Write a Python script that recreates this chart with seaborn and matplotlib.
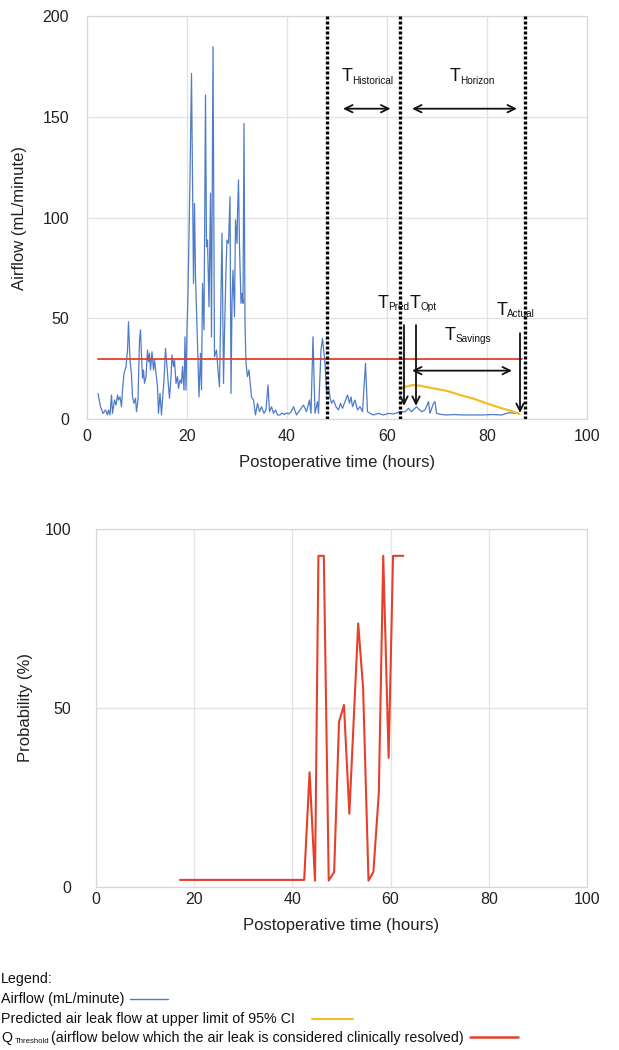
import matplotlib
matplotlib.use("Agg")
import matplotlib.pyplot as plt
from matplotlib.lines import Line2D
import seaborn as sns
import pandas as pd

# ---------------- data ----------------
airflow_hours = [2.2, 2.7, 3.2, 3.7, 4.1, 4.3, 4.6, 4.9, 5.1, 5.5, 5.8, 6.1, 6.3, 6.6, 6.9, 7.1, 7.4, 7.8,
                 8.1, 8.3, 8.6, 8.9, 9.1, 9.4, 9.7, 9.9, 10.2, 10.5, 10.7, 10.8, 11.1, 11.3, 11.5, 11.8,
                 12.1, 12.3, 12.5, 12.7, 13.0, 13.3, 13.5, 13.8, 14.1, 14.3, 14.6, 14.9, 15.1, 15.4, 15.7,
                 16.0, 16.3, 16.5, 16.8, 17.0, 17.3, 17.5, 17.8, 18.1, 18.3, 18.6, 18.9, 19.1, 19.4, 19.6,
                 19.8, 20.0, 20.2, 20.6, 20.9, 21.3, 21.5, 21.7, 22.1, 22.4, 22.7, 22.9, 23.1, 23.4, 23.7,
                 23.9, 24.1, 24.4, 24.7, 24.9, 25.2, 25.5, 25.9, 26.2, 26.5, 26.7, 27.0, 27.3, 27.5, 27.8,
                 28.0, 28.3, 28.6, 28.8, 29.0, 29.2, 29.5, 29.7, 30.0, 30.1, 30.3, 30.5, 30.8, 31.0, 31.2,
                 31.4, 31.6, 31.8, 32.1, 32.4, 32.7, 32.9, 33.3, 33.7, 34.1, 34.5, 34.9, 35.4, 35.8, 36.2,
                 36.5, 36.9, 37.3, 37.7, 38.1, 38.6, 39.0, 39.5, 39.9, 40.3, 40.8, 41.3, 41.9, 42.6, 43.3,
                 43.9, 44.5, 44.8, 45.2, 45.6, 46.1, 46.3, 46.8, 47.1, 47.6, 47.9, 48.3, 48.6, 48.9, 49.3,
                 49.8, 50.3, 50.7, 51.1, 51.6, 52.1, 52.5, 52.8, 53.1, 53.6, 54.1, 54.6, 55.1, 55.7, 56.1,
                 56.6, 57.3, 58.3, 59.3, 60.3, 61.3, 62.6, 63.6, 64.3, 64.9, 65.9, 66.9, 67.6, 68.3, 68.6,
                 69.3, 69.6, 69.9, 71.0, 71.9, 73.5, 75.0, 77.0, 79.0, 81.0, 83.0, 83.9, 84.6, 85.6, 86.3]
airflow_values = [12.7, 6.1, 2.8, 4.5, 2.0, 4.5, 2.0, 11.9, 2.8, 9.4, 6.9, 11.9, 9.4, 11.0, 6.1, 14.4, 22.7, 26.0,
                  34.0, 48.3, 29.3, 21.8, 11.0, 7.8, 10.3, 3.6, 9.4, 39.2, 44.2, 37.6, 20.2, 24.3, 17.7, 21.0,
                  34.2, 28.4, 32.6, 24.3, 33.4, 24.3, 29.3, 22.7, 16.0, 2.8, 12.7, 2.0, 9.4, 19.4, 35.0,
                  26.0, 16.0, 10.3, 21.0, 31.8, 26.0, 29.3, 17.7, 21.0, 15.2, 19.4, 17.7, 26.0, 14.4, 40.8,
                  14.4, 44.2, 62.4, 120.0, 171.5, 67.3, 107.0, 70.6, 37.6, 11.0, 32.6, 14.4, 67.3, 44.2, 160.8,
                  85.5, 88.8, 55.7, 112.0, 40.8, 184.8, 30.9, 34.2, 24.3, 16.0, 47.5, 92.2, 17.7, 42.5, 73.9,
                  88.8, 87.2, 110.3, 12.7, 57.4, 73.9, 50.8, 98.8, 87.2, 102.0, 118.6, 85.5, 57.4, 62.4, 57.4,
                  146.7, 47.5, 27.6, 21.0, 24.3, 16.0, 11.0, 9.4, 2.0, 7.8, 3.6, 6.1, 2.8, 4.5, 16.9,
                  3.6, 6.1, 2.8, 4.5, 2.0, 2.0, 3.0, 2.2, 3.0, 2.5, 3.5, 6.1, 2.0, 4.5, 6.9,
                  3.6, 9.4, 2.8, 40.8, 2.8, 8.6, 2.8, 34.2, 40.0, 27.6, 13.5, 16.0, 11.0, 7.8, 9.4,
                  6.1, 4.5, 7.8, 5.3, 8.6, 11.9, 7.8, 11.0, 6.1, 9.4, 4.5, 6.1, 3.6, 27.6, 3.6,
                  2.8, 2.0, 2.8, 2.0, 2.8, 2.5, 3.6, 3.6, 5.3, 3.6, 6.1, 3.6, 4.5, 8.6, 2.8,
                  7.8, 8.6, 2.8, 2.2, 2.0, 2.2, 2.0, 2.0, 2.0, 2.2, 2.0, 2.8, 3.1, 2.8, 3.1]

predicted_hours = [62.6, 63.6, 65.3, 66.6, 69.3, 71.9, 74.6, 77.3, 79.9, 82.6, 85.3, 86.5]
predicted_values = [14.9, 16.0, 16.9, 16.5, 15.2, 14.0, 11.9, 10.1, 7.8, 5.6, 3.6, 2.5]

threshold_hours = [2.1, 86.9]
threshold_values = [30, 30]

event_hours = [48.0, 62.5, 87.5]   # dotted vertical markers

prob_hours = [17.1, 42.4, 43.5, 44.6, 45.3, 46.4, 47.4, 48.5, 49.5, 50.5, 51.6, 53.4, 54.4, 55.5,
              56.5, 57.6, 58.5, 59.6, 60.5, 62.6]
prob_values = [1.9, 1.9, 32.0, 1.7, 92.5, 92.5, 1.7, 4.1, 46.1, 50.8, 20.4, 73.6, 55.5, 1.7,
               4.2, 26.2, 92.5, 36.0, 92.5, 92.5]

x_ticks = [0, 20, 40, 60, 80, 100]
top_y_ticks = [0, 50, 100, 150, 200]
bottom_y_ticks = [0, 50, 100]

# annotation labels (name, subscript)
range_labels = [("T", "Historical"), ("T", "Horizon"), ("T", "Savings")]
range_from = [51.2, 65.0, 65.0]
range_to = [60.7, 86.0, 85.0]
range_level = [154, 154, 24]
range_text_x = [50.9, 72.6, 71.6]
range_text_y = [167.5, 167.5, 39.2]

point_labels = [("T", "Pred"), ("T", "Opt"), ("T", "Actual")]
point_x = [63.4, 65.8, 86.6]
point_top = [46.6, 46.6, 42.6]
point_bottom = [6.5, 6.5, 3.0]
point_text_x = [58.1, 64.6, 81.9]
point_text_y = [55.0, 55.0, 51.6]

legend_title = "Legend:"
legend_texts = ["Airflow (mL/minute)", "Predicted air leak flow at upper limit of 95% CI",
                "(airflow below which the air leak is considered clinically resolved)"]
legend_symbol = ("Q", "Threshold")

# ---------------- style ----------------
BLUE = "#4f7cc8"
YELLOW = "#f3bd28"
RED = "#e5402c"
GRID = "#e3e3e3"
INK = "#111111"

sns.set_theme(style="whitegrid")
plt.rcParams["font.family"] = ["Liberation Sans", "DejaVu Sans"]

W, H = 619, 1050
fig = plt.figure(figsize=(W / 100, H / 100), dpi=100)
fig.patch.set_facecolor("white")


def style_axes(ax):
    ax.set_facecolor("white")
    ax.grid(True, color=GRID, lw=0.9)
    for s in ax.spines.values():
        s.set_color("#d8d8d8")
        s.set_linewidth(0.9)
    ax.tick_params(length=0, labelsize=11.5, colors="#222222")


def sub_label(ax, x, y, base, sub):
    ax.text(x, y, base, fontsize=13, ha="left", va="baseline", color=INK, zorder=7)
    ax.annotate(sub, xy=(x, y), xytext=(7.4, -1.6), textcoords="offset points",
                fontsize=7.2, ha="left", va="baseline", color=INK, zorder=7,
                annotation_clip=False)


# ---------------- top chart ----------------
ax1 = fig.add_axes([87 / W, 1 - 419 / H, 500 / W, 403 / H])
style_axes(ax1)

df_air = pd.DataFrame({"hours": airflow_hours, "airflow": airflow_values})
df_pred = pd.DataFrame({"hours": predicted_hours, "pred": predicted_values})
df_thr = pd.DataFrame({"hours": threshold_hours, "thr": threshold_values})

sns.lineplot(data=df_air, x="hours", y="airflow", ax=ax1, color=BLUE, lw=0.9, estimator=None, sort=False)
sns.lineplot(data=df_thr, x="hours", y="thr", ax=ax1, color=RED, lw=1.3, estimator=None)
sns.lineplot(data=df_pred, x="hours", y="pred", ax=ax1, color=YELLOW, lw=1.6, estimator=None)

for xv in event_hours:
    ax1.axvline(xv, color="black", lw=2.4, linestyle=(0, (0.9, 0.6)), zorder=5)

arrow_kw = dict(arrowstyle="<->,head_length=0.45,head_width=0.22", color=INK, lw=1.3,
                shrinkA=0, shrinkB=0, mutation_scale=12)
for (base, sub), x0, x1, yv, tx, ty in zip(range_labels, range_from, range_to, range_level,
                                           range_text_x, range_text_y):
    ax1.annotate("", xy=(x1, yv), xytext=(x0, yv), arrowprops=arrow_kw, zorder=6)
    sub_label(ax1, tx, ty, base, sub)

down_kw = dict(arrowstyle="->,head_length=0.45,head_width=0.22", color=INK, lw=1.3,
               shrinkA=0, shrinkB=0, mutation_scale=12)
for (base, sub), xv, yt, yb, tx, ty in zip(point_labels, point_x, point_top, point_bottom,
                                           point_text_x, point_text_y):
    ax1.annotate("", xy=(xv, yb), xytext=(xv, yt), arrowprops=down_kw, zorder=6)
    sub_label(ax1, tx, ty, base, sub)

ax1.set_xlim(0, 100)
ax1.set_ylim(0, 200)
ax1.set_xticks(x_ticks)
ax1.set_yticks(top_y_ticks)
ax1.tick_params(axis="y", pad=13)
ax1.tick_params(axis="x", pad=7)
ax1.set_xlabel("Postoperative time (hours)", fontsize=12, labelpad=8, color="#222222")
ax1.set_ylabel("Airflow (mL/minute)", fontsize=12, labelpad=11, color="#222222")

# ---------------- bottom chart ----------------
ax2 = fig.add_axes([96 / W, 1 - 886.7 / H, 491 / W, 357.7 / H])
style_axes(ax2)
df_prob = pd.DataFrame({"hours": prob_hours, "prob": prob_values})
sns.lineplot(data=df_prob, x="hours", y="prob", ax=ax2, color=RED, lw=1.5, estimator=None, sort=False)
ax2.set_xlim(0, 100)
ax2.set_ylim(0, 100)
ax2.set_xticks(x_ticks)
ax2.set_yticks(bottom_y_ticks)
ax2.tick_params(axis="y", pad=18)
ax2.tick_params(axis="x", pad=4)
ax2.set_xlabel("Postoperative time (hours)", fontsize=12, labelpad=8, color="#222222")
ax2.set_ylabel("Probability (%)", fontsize=12, labelpad=8, color="#222222")

# ---------------- legend block ----------------
LFS = 10.3
fig.text(1 / W, 1 - 983 / H, legend_title, fontsize=LFS, ha="left", va="baseline", color=INK)
legend_baselines = [1003, 1023, 1042]
legend_text_left = [1, 1, 51]
legend_colors = [BLUE, YELLOW, RED]
legend_line_x = [(130, 168), (312, 353), (470, 518)]
legend_line_y = [999, 1019, 1037]
legend_lw = [1.0, 1.5, 1.8]
for txt, yb, xl, c, (lx0, lx1), ly, lw in zip(legend_texts, legend_baselines, legend_text_left,
                                                legend_colors, legend_line_x, legend_line_y, legend_lw):
    fig.text(xl / W, 1 - yb / H, txt, fontsize=LFS, ha="left", va="baseline", color=INK)
    fig.add_artist(Line2D([lx0 / W, lx1 / W], [1 - ly / H, 1 - ly / H], color=c, lw=lw,
                          transform=fig.transFigure))
fig.text(1 / W, 1 - 1042 / H, legend_symbol[0], fontsize=LFS, ha="left", va="baseline", color=INK)
fig.text(15 / W, 1 - 1043 / H, legend_symbol[1], fontsize=5.6, ha="left", va="baseline", color=INK)

fig.savefig("out.png", dpi=100, facecolor="white")
